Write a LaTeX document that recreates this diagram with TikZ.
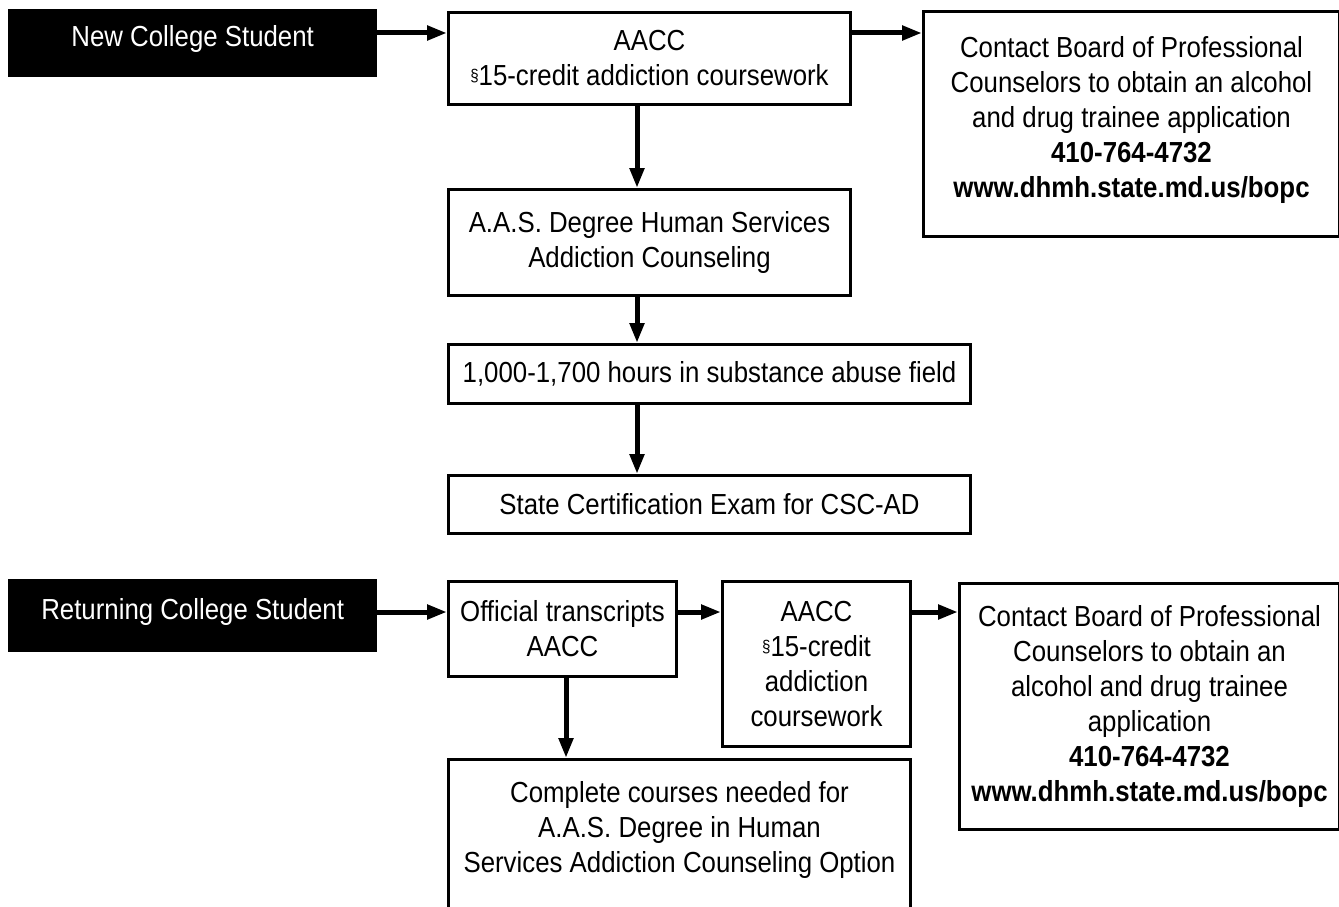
\documentclass[tikz,border=0pt]{standalone}
\usepackage{fontspec}
\setmainfont[FakeStretch=0.89]{Liberation Sans}
\usetikzlibrary{arrows.meta}

\newcommand{\para}{{\fontsize{17}{17}\selectfont\raisebox{4pt}{\S}}}
\newcommand{\lift}[1]{\rule[-#1pt]{0pt}{0pt}}

\begin{document}
\begin{tikzpicture}[x=1pt,y=-1pt,
	box/.style={draw,line width=3pt,anchor=north west,align=center,inner sep=0pt,font=\fontsize{29}{35}\selectfont},
	start/.style={fill=black,text=white,anchor=north west,align=center,inner sep=0pt,font=\fontsize{29}{35}\selectfont},
	arr/.style={line width=5pt,-{Triangle[length=20pt,width=14pt]}}]
	\clip (0,0) rectangle (1339,907);
	\coordinate (rowa) at (0,33);
	\coordinate (rowb) at (0,612);
	\coordinate (cola) at (637,0);
	\coordinate (colb) at (566,0);
	\node[start,minimum width=369pt,minimum height=68pt] (newst) at (8,9) {New College Student\lift{14}};
	\node[box,minimum width=402pt,minimum height=92pt] (aacc) at (447,11) {AACC\\\para15-credit addiction coursework};
	\node[box,minimum width=416pt,minimum height=225pt] (board) at (922,10) {Contact Board of Professional\\Counselors to obtain an alcohol\\and drug trainee application\\\textbf{410-764-4732}\\\textbf{www.dhmh.state.md.us/bopc}\lift{15}};
	\node[box,minimum width=402pt,minimum height=106pt] (aas) at (447,188) {A.A.S. Degree Human Services\\Addiction Counseling};
	\node[box,minimum width=522pt,minimum height=59pt] (hours) at (447,343) {1,000-1,700 hours in substance abuse field};
	\node[box,minimum width=522pt,minimum height=58pt] (exam) at (447,474) {State Certification Exam for CSC-AD};
	\node[start,minimum width=369pt,minimum height=73pt] (retst) at (8,579) {Returning College Student\lift{13}};
	\node[box,minimum width=228pt,minimum height=95pt] (trans) at (447,580) {Official transcripts\\AACC};
	\node[box,minimum width=188pt,minimum height=165pt] (aacctwo) at (721,580) {AACC\\\para15-credit\\addiction\\coursework};
	\node[box,minimum width=380pt,minimum height=246pt] (boardtwo) at (958,582) {Contact Board of Professional\\Counselors to obtain an\\alcohol and drug trainee\\application\\\textbf{410-764-4732}\\\textbf{www.dhmh.state.md.us/bopc}};
	\node[box,minimum width=462pt,minimum height=200pt] (compl) at (447,758) {Complete courses needed for\\A.A.S. Degree in Human\\Services Addiction Counseling Option\lift{66}};
	\draw[arr] (newst.east |- rowa) -- (aacc.west |- rowa);
	\draw[arr] (aacc.east |- rowa) -- (board.west |- rowa);
	\draw[arr] (aacc.south -| cola) -- (aas.north -| cola);
	\draw[arr] (aas.south -| cola) -- (hours.north -| cola);
	\draw[arr] (hours.south -| cola) -- (exam.north -| cola);
	\draw[arr] (retst.east |- rowb) -- (trans.west |- rowb);
	\draw[arr] (trans.east |- rowb) -- (aacctwo.west |- rowb);
	\draw[arr] (aacctwo.east |- rowb) -- (boardtwo.west |- rowb);
	\draw[arr] (trans.south -| colb) -- (compl.north -| colb);
\end{tikzpicture}
\end{document}
